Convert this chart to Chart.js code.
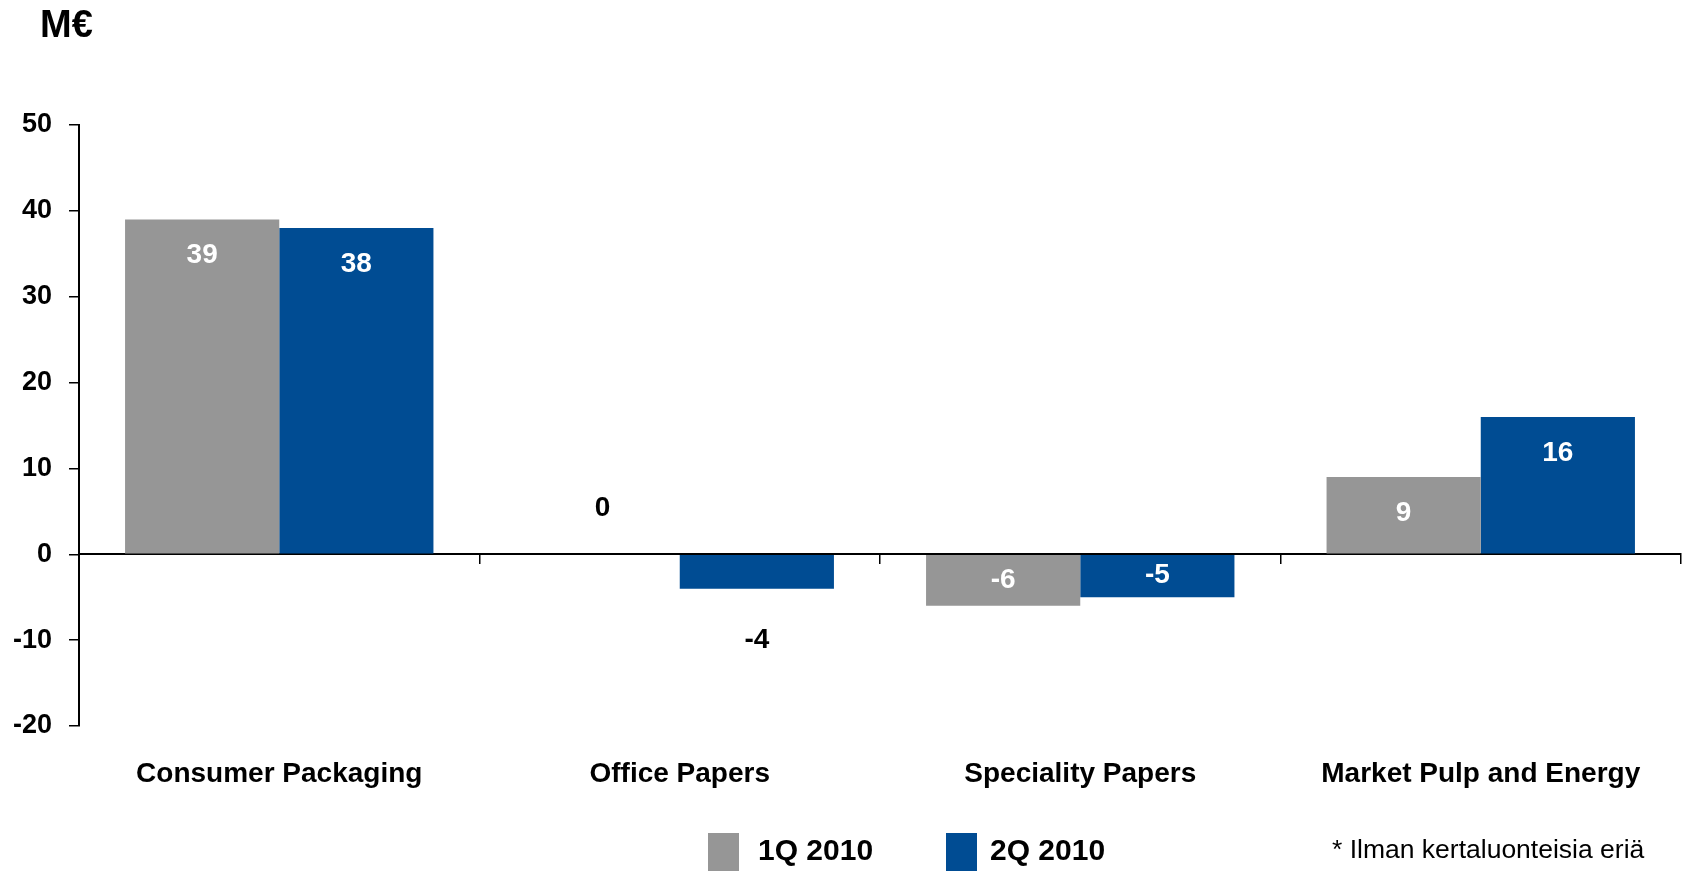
<!DOCTYPE html>
<html>
<head>
<meta charset="utf-8">
<script src="https://cdn.jsdelivr.net/npm/chart.js@4.4.1/dist/chart.umd.min.js"></script>
<style>
  html, body { margin: 0; padding: 0; background: #ffffff; }
  #wrap { position: relative; width: 1687px; height: 871px; overflow: hidden;
          font-family: "Liberation Sans", Arial, sans-serif; color: #000; }
  #chart { position: absolute; left: 0; top: 0; }
  .unit { position: absolute; left: 40px; top: 5px; font-size: 38px; line-height: 38px; font-weight: bold; }
  .lg-box { position: absolute; top: 833px; width: 31px; height: 50px; }
  .lg-text { position: absolute; top: 835px; font-size: 30px; line-height: 30px; font-weight: bold; white-space: nowrap; }
  .note { position: absolute; left: 1332px; top: 836px; font-size: 26.5px; line-height: 27px; white-space: nowrap; }
</style>
</head>
<body>
<div id="wrap">
  <canvas id="chart" width="1687" height="871"></canvas>
</div>
<script>
// ---- data ----
const categories = ["Consumer Packaging", "Office Papers", "Speciality Papers", "Market Pulp and Energy"];
const seriesNames = ["1Q 2010", "2Q 2010"];
const q1Values = [39, 0, -6, 9];
const q2Values = [38, -4, -5, 16];
const yTickValues = [-20, -10, 0, 10, 20, 30, 40, 50];
const unitLabel = "M€";
const footnoteText = "* Ilman kertaluonteisia eriä";

// ---- styles ----
const seriesColors = ["#969696", "#004C93"];
const FONT = '"Liberation Sans", Arial, sans-serif';
const legendLayout = [{ box: 708, text: 758 }, { box: 946, text: 990 }];

const wrap = document.getElementById('wrap');
const unitEl = document.createElement('div');
unitEl.className = 'unit';
unitEl.textContent = unitLabel;
wrap.appendChild(unitEl);

seriesNames.forEach((name, i) => {
  const b = document.createElement('div');
  b.className = 'lg-box';
  b.style.left = legendLayout[i].box + 'px';
  b.style.background = seriesColors[i];
  wrap.appendChild(b);
  const t = document.createElement('div');
  t.className = 'lg-text';
  t.style.left = legendLayout[i].text + 'px';
  t.textContent = name;
  wrap.appendChild(t);
});
const note = document.createElement('div');
note.className = 'note';
note.textContent = footnoteText;
wrap.appendChild(note);

const valueLabels = {
  id: 'valueLabels',
  afterDatasetsDraw(chart) {
    const ctx = chart.ctx;
    const yScale = chart.scales.y;
    ctx.save();
    ctx.font = 'bold 28px ' + FONT;
    ctx.textAlign = 'center';
    ctx.textBaseline = 'middle';
    chart.data.datasets.forEach((ds, di) => {
      const meta = chart.getDatasetMeta(di);
      meta.data.forEach((bar, i) => {
        const v = ds.data[i];
        const end = yScale.getPixelForValue(v);
        const base = yScale.getPixelForValue(0);
        const h = Math.abs(base - end);
        const dir = v >= 0 ? 1 : -1; // 1 = upward bar
        let y, color;
        if (h >= 40) {
          y = end + dir * Math.min(h / 2, 36);
          color = '#ffffff';
        } else {
          y = end - dir * 49 + 3;
          color = '#000000';
        }
        ctx.fillStyle = color;
        ctx.fillText(String(v), bar.x, y);
      });
    });
    ctx.restore();
  }
};

new Chart(document.getElementById('chart'), {
  type: 'bar',
  data: {
    labels: categories,
    datasets: [
      { label: seriesNames[0], data: q1Values, backgroundColor: seriesColors[0], borderWidth: 0,
        categoryPercentage: 0.77, barPercentage: 1.0 },
      { label: seriesNames[1], data: q2Values, backgroundColor: seriesColors[1], borderWidth: 0,
        categoryPercentage: 0.77, barPercentage: 1.0 }
    ]
  },
  options: {
    responsive: false,
    animation: false,
    devicePixelRatio: 1,
    layout: { padding: { left: 13, right: 6, top: 125, bottom: 80 } },
    plugins: {
      legend: { display: false },
      tooltip: { enabled: false },
      title: { display: false }
    },
    scales: {
      x: {
        type: 'category',
        position: 'bottom',
        offset: true,
        grid: { display: false, drawTicks: false },
        border: { display: false },
        ticks: { color: '#000', font: { family: FONT, size: 28, weight: 'bold' },
                 padding: 31, maxRotation: 0, autoSkip: false },
        afterFit(scale) { scale.height = 65; }
      },
      xZero: {
        type: 'category',
        position: { y: 0 },
        offset: true,
        grid: { offset: true, drawOnChartArea: false, drawTicks: true, tickLength: 9,
                color: '#000', lineWidth: 1.5 },
        border: { display: true, color: '#000', width: 2 },
        ticks: { display: false },
        afterFit(scale) { scale.height = 0; }
      },
      y: {
        min: yTickValues[0],
        max: yTickValues[yTickValues.length - 1],
        afterBuildTicks(scale) { scale.ticks = yTickValues.map(v => ({ value: v })); },
        grid: { drawOnChartArea: false, drawTicks: true, tickLength: 10, color: '#000', lineWidth: 1.5 },
        border: { display: true, color: '#000', width: 2 },
        ticks: { color: '#000', font: { family: FONT, size: 27, weight: 'bold' }, padding: 17 },
        afterFit(scale) { scale.width = 66; }
      }
    }
  },
  plugins: [valueLabels]
});
</script>
</body>
</html>
